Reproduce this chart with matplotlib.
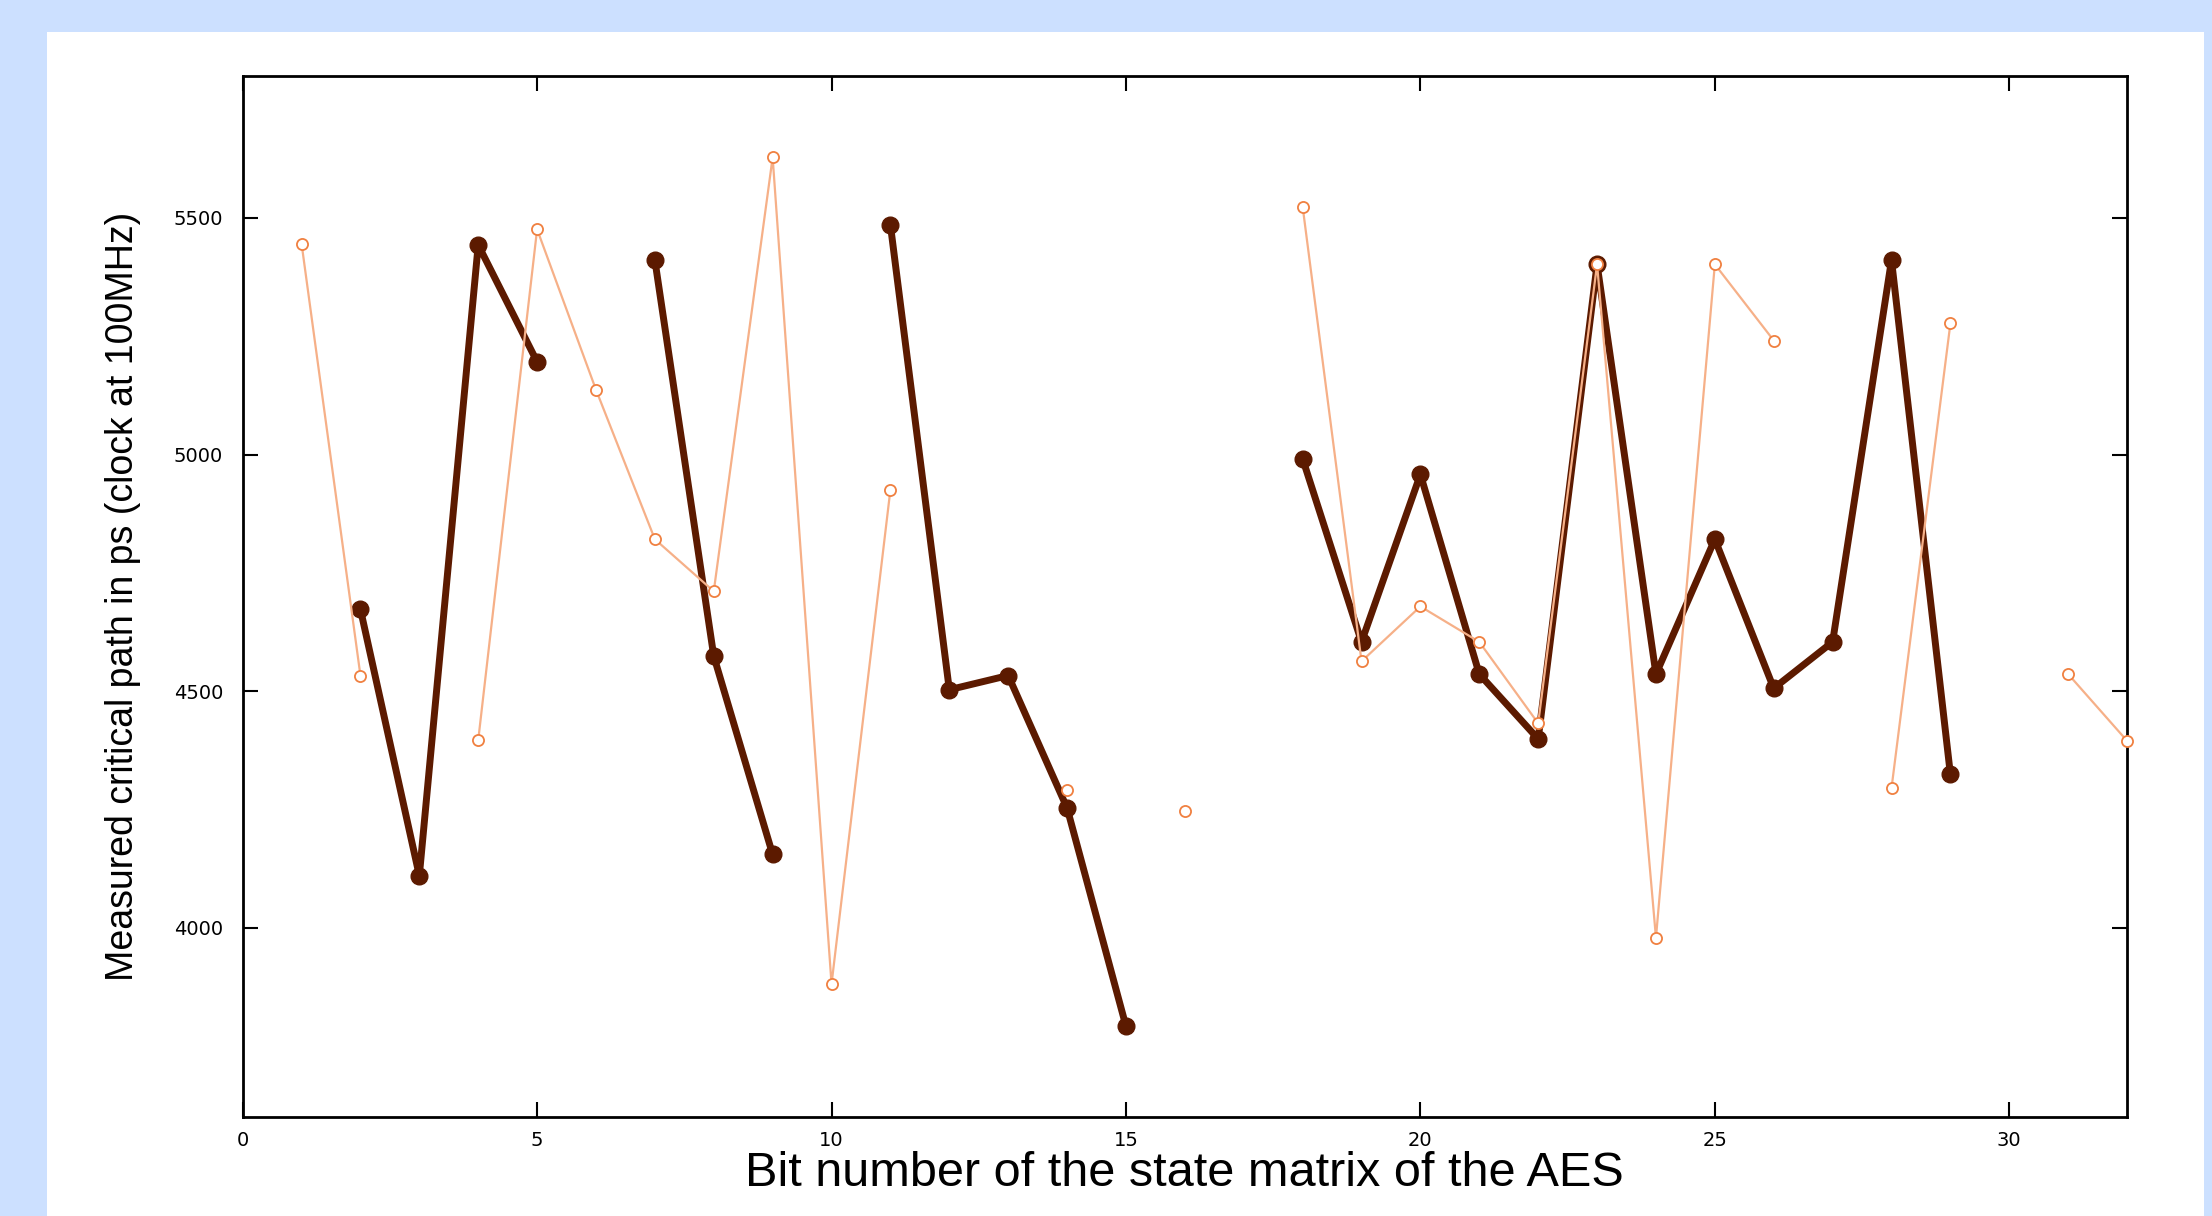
import numpy as np
import matplotlib
matplotlib.use('Agg')
import matplotlib.pyplot as plt
from matplotlib.patches import Rectangle

nan = np.nan

# bit index 0..32
bits = np.arange(0, 33)

# thick dark series (gaps = missing measurements)
dark = [nan, nan, 4673, 4110, 5443, 5196, nan, 5411, 4574, 4155,
        nan, 5485, 4503, 4533, 4253, 3792, nan, nan, 4991, 4604,
        4958, 4536, 4399, 5402, 4536, 4821, 4506, 4604, 5411, 4324,
        nan, nan, nan]

# thin orange series
light = [nan, 5446, 4533, nan, 4396, 5476, 5137, 4821, 4711, 5628,
         3881, 4926, nan, nan, 4292, nan, 4247, nan, 5524, 4563,
         4679, 4604, 4432, 5402, 3979, 5402, 5241, nan, 4295, 5277,
         nan, 4536, 4395]

xticks = [0, 5, 10, 15, 20, 25, 30]
yticks = [4000, 4500, 5000, 5500]

fig = plt.figure(figsize=(22.12, 12.16), dpi=100)
fig.patch.set_facecolor('#cce0ff')
fig.patches.append(Rectangle((0.0212, 0.0), 0.9752, 0.9737, transform=fig.transFigure,
                             facecolor='white', edgecolor='none', zorder=-5))

ax = fig.add_axes([0.1097, 0.0814, 0.8519, 0.8561])
ax.set_zorder(2)
ax.plot(bits, dark, color='#5c1a00', lw=5, marker='o', ms=12,
        mfc='#5c1a00', mec='#5c1a00', zorder=3, clip_on=False)
ax.plot(bits, light, color='#f6b088', lw=1.6, marker='o', ms=8,
        mfc='white', mec='#f08040', mew=1.3, zorder=4, clip_on=False)

ax.set_xlim(0, 32)
ax.set_ylim(3600, 5800)
ax.set_xticks(xticks)
ax.set_yticks(yticks)
ax.tick_params(direction='in', length=11, width=1.5, top=True, right=True,
               labelsize=14, pad=14, colors='black')
ax.tick_params(axis='x', pad=10)
for s in ax.spines.values():
    s.set_linewidth(2)

ax.set_xlabel('Bit number of the state matrix of the AES',
              family=['Liberation Sans', 'DejaVu Sans'], size=35, labelpad=1)
ax.set_ylabel('Measured critical path in ps (clock at 100MHz)',
              family=['Liberation Sans', 'DejaVu Sans'], size=27)
ax.yaxis.set_label_coords(-0.054, 0.5)

fig.savefig('out.png', dpi=100, facecolor=fig.get_facecolor())
